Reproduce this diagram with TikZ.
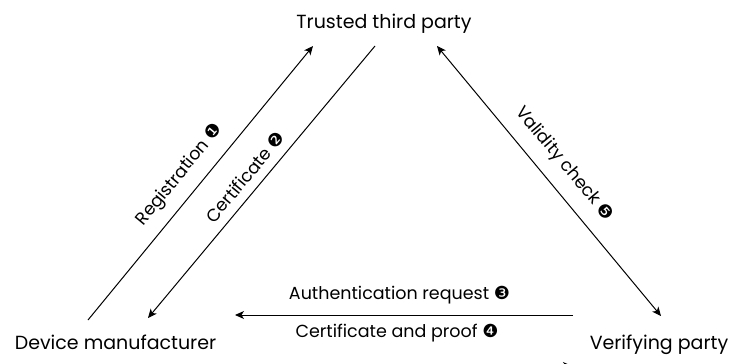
\documentclass[tikz,border=0pt]{standalone}
\usepackage{fontspec}
\setmainfont{Poppins}
\newfontfamily\dingf{DejaVu Sans}
\usetikzlibrary{arrows.meta}
\newcommand\cnum[1]{{\dingf\fontsize{18}{18}\selectfont #1}}
\begin{document}
\begin{tikzpicture}[x=1pt,y=-1pt,
  party/.style={font=\fontsize{19}{22}\selectfont, inner sep=0pt, anchor=base},
  lbl/.style={font=\fontsize{17.5}{20}\selectfont, inner sep=0pt},
  conn/.style={line width=1pt, -{Stealth[length=9pt,width=8pt,inset=2.5pt]}},
  conn2/.style={line width=1pt, {Stealth[length=9pt,width=8pt,inset=2.5pt]}-{Stealth[length=9pt,width=8pt,inset=2.5pt]}},
]
\useasboundingbox (0,0) rectangle (734,364);
% parties
\node[party] (ttp) at (384,28) {Trusted third party};
\node[party] (dm) at (115.5,349) {Device manufacturer};
\node[party] (vp) at (659,349) {Verifying party};
% connector end points
\coordinate (regS) at (88,320);
\coordinate (regE) at (313,46);
\coordinate (cerS) at (375,46);
\coordinate (cerE) at (148,318);
\coordinate (valA) at (437,46);
\coordinate (valB) at (661,316);
\coordinate (autS) at (573,315);
\coordinate (autE) at (235,315);
\coordinate (prfS) at (237,366);
\coordinate (prfE) at (572,366);
% connectors
\draw[conn] (regS) -- (regE);
\draw[conn] (cerS) -- (cerE);
\draw[conn2] (valA) -- (valB);
\draw[conn] (autS) -- (autE);
\draw[conn] (prfS) -- (prfE);
% labels
\node[lbl, rotate=50.4] (l1) at (180,175) {Registration \cnum{❶}};
\node[lbl, rotate=50.3] (l2) at (245,177) {Certificate \cnum{❷}};
\node[lbl, rotate=-50.2] (l5) at (564,164) {Validity check \cnum{❺}};
\node[lbl, anchor=base] (l3) at (399.5,299) {Authentication request \cnum{❸}};
\node[lbl, anchor=base] (l4) at (397,337) {Certificate and proof \cnum{❹}};
\end{tikzpicture}
\end{document}
